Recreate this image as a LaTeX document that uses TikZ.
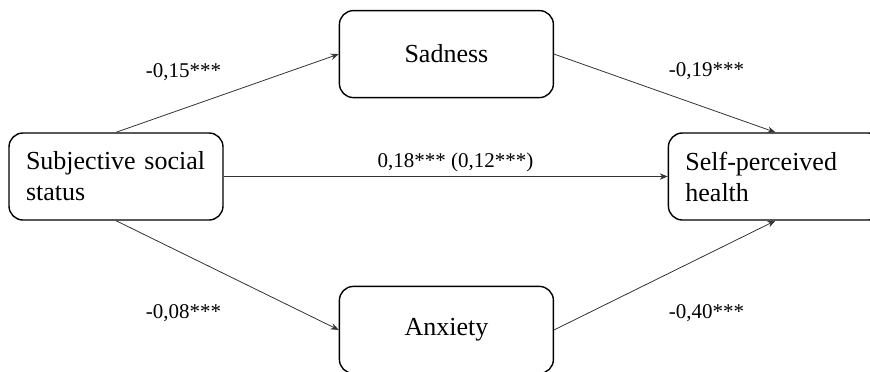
\documentclass[tikz,border=0pt]{standalone}
\usepackage{fontspec}
\setmainfont{Liberation Serif}
\usetikzlibrary{positioning,arrows.meta}

\tikzstyle{varbox} = [rectangle, rounded corners=7pt, minimum width=107pt, minimum height=43.5pt, text width=90pt, inner xsep=8.5pt, align=left, draw=black, line width=0.7pt, font=\fontsize{13}{15.5}\selectfont]
\tikzstyle{coef} = [inner sep=0pt, font=\fontsize{10.5}{12}\selectfont]
\tikzstyle{path} = [-{Stealth[length=4pt,width=3.2pt]}, line width=0.4pt, draw=black!80]

\begin{document}
\begin{tikzpicture}
\useasboundingbox (0,0) rectangle (435pt,185.5pt);

\node (sss) [varbox] at (58pt,97.25pt) {Subjective social\\status};

\node (sad) [varbox, align=center, above right=17pt and 57.5pt of sss] {Sadness};

\node (anx) [varbox, align=center, below right=32.5pt and 57.5pt of sss] {Anxiety};

\node (sph) [varbox, right=222pt of sss] {Self-perceived\\health};

\node (c15) [coef] at (91.75pt,149.5pt) {-0,15***};
\node (c08) [coef] at (91.75pt,29pt) {-0,08***};
\node (c19) [coef] at (353.25pt,150pt) {-0,19***};
\node (c40) [coef] at (353.25pt,29pt) {-0,40***};
\node (c18) [coef] at (227.75pt,104.5pt) {0,18*** (0,12***)};

\draw [path] (sss.north) -- (sad.west);
\draw [path] (sss.south) -- (anx.west);
\draw [path] (sss.east) -- (sph.west);
\draw [path] (sad.east) -- (sph.north);
\draw [path] (anx.east) -- (sph.south);
\end{tikzpicture}
\end{document}
